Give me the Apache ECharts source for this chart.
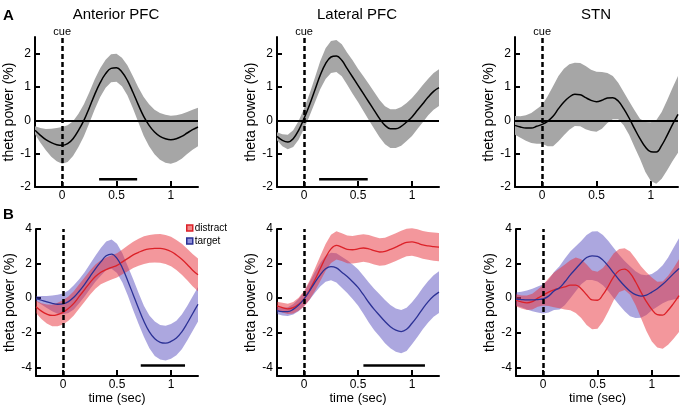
<!DOCTYPE html>
<html>
<head>
<meta charset="utf-8">
<script src="https://cdn.jsdelivr.net/npm/echarts@6/dist/echarts.min.js"></script>
<style>
  html, body { margin: 0; padding: 0; background: #fff; }
  #chart { width: 683px; height: 411px; }
</style>
</head>
<body>
<div id="chart"></div>
<script>
// time axis (sec), shared by every trace
const time = [-0.25, -0.2, -0.15, -0.1, -0.05, 0, 0.05, 0.1, 0.15, 0.2, 0.25, 0.3, 0.35, 0.4, 0.45, 0.5,
  0.55, 0.6, 0.65, 0.7, 0.75, 0.8, 0.85, 0.9, 0.95, 1.0, 1.05, 1.1, 1.15, 1.2, 1.25]

// row A: all trials (mean and half-width of the shaded band)
const antMean = [-0.30, -0.45, -0.58, -0.67, -0.73, -0.75, -0.70, -0.55, -0.30, 0.0, 0.38, 0.78, 1.13, 1.40, 1.56, 1.58,
  1.45, 1.20, 0.85, 0.47, 0.12, -0.15, -0.35, -0.48, -0.55, -0.58, -0.55, -0.48, -0.38, -0.28, -0.20]
const antErr = [0.12, 0.22, 0.32, 0.42, 0.5, 0.55, 0.55, 0.52, 0.5, 0.48, 0.46, 0.45, 0.43, 0.42, 0.42, 0.42,
  0.43, 0.45, 0.48, 0.52, 0.58, 0.63, 0.67, 0.7, 0.72, 0.72, 0.7, 0.67, 0.63, 0.6, 0.58]
const latMean = [-0.48, -0.6, -0.65, -0.55, -0.3, 0.05, 0.45, 0.9, 1.35, 1.7, 1.9, 1.93, 1.8, 1.55, 1.3, 1.05,
  0.8, 0.55, 0.3, 0.05, -0.15, -0.25, -0.25, -0.18, -0.05, 0.1, 0.3, 0.5, 0.7, 0.87, 0.98]
const latErr = [0.12, 0.18, 0.22, 0.25, 0.28, 0.3, 0.33, 0.37, 0.42, 0.46, 0.48, 0.48, 0.48, 0.48, 0.5, 0.5,
  0.52, 0.54, 0.55, 0.56, 0.57, 0.58, 0.58, 0.58, 0.57, 0.57, 0.56, 0.56, 0.55, 0.55, 0.55]
const stnMean = [-0.15, -0.2, -0.23, -0.23, -0.18, -0.12, -0.03, 0.12, 0.35, 0.55, 0.7, 0.78, 0.77, 0.68, 0.6, 0.56,
  0.6, 0.67, 0.68, 0.58, 0.35, 0.07, -0.25, -0.55, -0.8, -0.94, -0.95, -0.75, -0.45, -0.12, 0.18]
const stnErr = [0.28, 0.32, 0.38, 0.45, 0.52, 0.58, 0.75, 0.9, 0.98, 1.0, 0.98, 0.95, 0.95, 0.95, 0.92, 0.9,
  0.85, 0.75, 0.65, 0.55, 0.5, 0.5, 0.55, 0.6, 0.75, 0.88, 0.95, 1.0, 1.05, 1.1, 1.15]

// row B: distract vs target
const antDistract = [-0.5, -0.75, -0.92, -1.0, -0.95, -0.82, -0.6, -0.3, 0.1, 0.5, 0.9, 1.25, 1.5, 1.65, 1.78, 1.9,
  2.1, 2.3, 2.5, 2.65, 2.78, 2.85, 2.88, 2.88, 2.82, 2.7, 2.5, 2.25, 1.95, 1.62, 1.35]
const antDistractErr = [0.35, 0.45, 0.55, 0.62, 0.68, 0.7, 0.7, 0.7, 0.7, 0.7, 0.7, 0.7, 0.7, 0.7, 0.7, 0.7,
  0.72, 0.74, 0.76, 0.78, 0.8, 0.8, 0.82, 0.83, 0.84, 0.85, 0.87, 0.89, 0.91, 0.93, 0.95]
const antTarget = [-0.02, -0.12, -0.22, -0.3, -0.35, -0.33, -0.2, 0.05, 0.4, 0.8, 1.25, 1.7, 2.1, 2.45, 2.55, 2.3,
  1.75, 1.0, 0.2, -0.6, -1.35, -1.95, -2.35, -2.55, -2.6, -2.5, -2.3, -1.95, -1.45, -0.9, -0.35]
const antTargetErr = [0.15, 0.25, 0.35, 0.45, 0.55, 0.6, 0.65, 0.7, 0.7, 0.7, 0.72, 0.75, 0.8, 0.82, 0.85, 0.85,
  0.85, 0.85, 0.9, 0.9, 0.9, 0.95, 1.0, 1.0, 1.0, 1.0, 1.0, 1.0, 1.0, 1.0, 1.0]
const latDistract = [-0.45, -0.55, -0.62, -0.55, -0.35, -0.05, 0.45, 1.05, 1.7, 2.35, 2.85, 3.05, 2.95, 2.82, 2.8, 2.85,
  2.9, 2.85, 2.75, 2.67, 2.7, 2.82, 2.95, 3.1, 3.22, 3.25, 3.18, 3.08, 3.02, 2.98, 2.95]
const latDistractErr = [0.25, 0.28, 0.3, 0.33, 0.38, 0.45, 0.55, 0.65, 0.72, 0.78, 0.82, 0.82, 0.8, 0.8, 0.8, 0.8,
  0.8, 0.8, 0.8, 0.8, 0.8, 0.8, 0.8, 0.8, 0.8, 0.8, 0.8, 0.8, 0.8, 0.82, 0.82]
const latTarget = [-0.72, -0.78, -0.78, -0.65, -0.4, -0.05, 0.4, 0.9, 1.35, 1.7, 1.83, 1.75, 1.5, 1.25, 0.95, 0.62,
  0.2, -0.25, -0.65, -1.0, -1.35, -1.65, -1.85, -1.93, -1.8, -1.45, -1.05, -0.6, -0.2, 0.12, 0.35]
const latTargetErr = [0.2, 0.22, 0.25, 0.3, 0.35, 0.4, 0.5, 0.6, 0.68, 0.75, 0.8, 0.85, 0.9, 0.95, 1.0, 1.05,
  1.1, 1.15, 1.2, 1.22, 1.25, 1.25, 1.25, 1.25, 1.25, 1.22, 1.2, 1.2, 1.2, 1.2, 1.2]
const stnDistract = [-0.12, -0.22, -0.27, -0.2, 0.0, 0.18, 0.35, 0.48, 0.57, 0.65, 0.75, 0.75, 0.55, 0.2, -0.1, -0.12,
  0.2, 0.7, 1.25, 1.6, 1.68, 1.45, 0.95, 0.35, -0.2, -0.65, -0.95, -0.98, -0.7, -0.3, 0.15]
const stnDistractErr = [0.35, 0.38, 0.42, 0.45, 0.5, 0.6, 0.8, 1.0, 1.15, 1.3, 1.45, 1.6, 1.7, 1.75, 1.7, 1.65,
  1.55, 1.45, 1.35, 1.25, 1.2, 1.25, 1.35, 1.5, 1.7, 1.85, 1.9, 1.95, 2.0, 2.05, 2.1]
const stnTarget = [-0.05, -0.08, -0.1, -0.1, -0.08, -0.04, 0.12, 0.42, 0.6, 0.95, 1.35, 1.7, 2.05, 2.35, 2.45, 2.42,
  2.2, 1.85, 1.45, 1.05, 0.7, 0.4, 0.2, 0.12, 0.18, 0.35, 0.55, 0.8, 1.1, 1.42, 1.72]
const stnTargetErr = [0.38, 0.45, 0.55, 0.65, 0.75, 0.85, 0.95, 1.1, 1.25, 1.35, 1.35, 1.3, 1.25, 1.3, 1.4, 1.45,
  1.45, 1.45, 1.45, 1.45, 1.45, 1.45, 1.35, 1.25, 1.15, 1.05, 1.05, 1.1, 1.25, 1.5, 1.75]

// significance bars: [start, end] in sec, and the level they sit at
const sigAnt = [0.34, 0.69]
const sigLat = [0.14, 0.59]
const sigAntB = [0.72, 1.13]
const sigLatB = [0.55, 1.12]
const sigLevelA = -1.77
const sigLevelB = -3.9

const xTicks = [0, 0.5, 1]
const yTicksA = [-2, -1, 0, 1, 2]
const yTicksB = [-4, -2, 0, 2, 4]

const titles = ['Anterior PFC', 'Lateral PFC', 'STN']

const FONT = 'Liberation Sans, Arial, sans-serif'
const GRAY = '#a6a6a6'
const RED = '#dc2128'
const BLUE = '#2b3195'
const RED_BAND = 'rgba(232, 48, 58, 0.5)'
const BLUE_BAND = 'rgba(70, 60, 185, 0.45)'

const chart = echarts.init(document.getElementById('chart'), null, { renderer: 'canvas' })

const grids = [
  { left: 35, top: 37, width: 163, height: 150 },
  { left: 277, top: 37, width: 162, height: 150 },
  { left: 515, top: 37, width: 163, height: 150 },
  { left: 36, top: 229, width: 162, height: 147 },
  { left: 277, top: 229, width: 162, height: 147 },
  { left: 516, top: 229, width: 163, height: 147 },
].map((g) => ({ ...g, outerBoundsMode: 'none' }))

const xAxes = grids.map((g, i) => ({
  type: 'value',
  gridIndex: i,
  min: -0.25,
  max: 1.25,
  name: i >= 3 ? 'time (sec)' : '',
  nameLocation: 'middle',
  nameGap: 15,
  nameTextStyle: { color: '#000', fontSize: 13, fontFamily: FONT },
  axisLine: { onZero: false, lineStyle: { color: '#000', width: 2 } },
  axisTick: { inside: true, length: 6, customValues: xTicks, lineStyle: { color: '#000', width: 2 } },
  axisLabel: { customValues: xTicks, color: '#000', fontSize: 12, margin: 3, fontFamily: FONT },
  splitLine: { show: false },
}))

const yAxes = grids.map((g, i) => ({
  type: 'value',
  gridIndex: i,
  min: i < 3 ? -2 : -4.5,
  max: i < 3 ? 2.5 : 4,
  name: 'theta power (%)',
  nameLocation: 'middle',
  nameGap: 18,
  nameTextStyle: { color: '#000', fontSize: 14, fontFamily: FONT },
  axisLine: { onZero: false, lineStyle: { color: '#000', width: 2 } },
  axisTick: { inside: true, length: 5, customValues: i < 3 ? yTicksA : yTicksB, lineStyle: { color: '#000', width: 2 } },
  axisLabel: { customValues: i < 3 ? yTicksA : yTicksB, color: '#000', fontSize: 12, margin: 4, fontFamily: FONT },
  splitLine: { show: false },
}))

function pairs(vals) {
  return time.map((t, i) => [t, vals[i]])
}

// shaded band (mean ± err) drawn as one polygon through the axis scales
function band(gi, mean, err, color) {
  const lo = mean.map((m, i) => m - err[i])
  const hi = mean.map((m, i) => m + err[i])
  return {
    type: 'custom', xAxisIndex: gi, yAxisIndex: gi, silent: true, z: 2,
    data: time.map((t, i) => [t, lo[i], hi[i]]),
    encode: { x: 0, y: [1, 2] },
    renderItem(params, api) {
      if (params.dataIndex !== 0) return null
      const top = time.map((t, i) => api.coord([t, hi[i]]))
      const bottom = time.map((t, i) => api.coord([t, lo[i]])).reverse()
      return { type: 'polygon', shape: { points: top.concat(bottom) }, style: { fill: color } }
    },
  }
}

function meanLine(gi, name, vals, color, width) {
  return {
    type: 'line', name, xAxisIndex: gi, yAxisIndex: gi, smooth: 0.4, symbol: 'none',
    lineStyle: { color, width }, itemStyle: { color }, data: pairs(vals), z: 3,
  }
}

function markers(gi, topRow) {
  const data = [{
    xAxis: 0,
    lineStyle: { type: [5, 3], width: 2.5, color: '#000' },
    label: { show: topRow, formatter: 'cue', position: 'end', distance: 0, color: '#000', fontSize: 11, fontFamily: FONT },
  }]
  if (topRow) {
    data.push({ yAxis: 0, lineStyle: { type: 'solid', width: 2, color: '#000' }, label: { show: false } })
  }
  return {
    type: 'line', xAxisIndex: gi, yAxisIndex: gi, data: [], z: 4,
    markLine: { silent: true, symbol: ['none', 'none'], animation: false, data },
  }
}

function sigBar(gi, span, level) {
  return {
    type: 'line', xAxisIndex: gi, yAxisIndex: gi, symbol: 'none', silent: true, z: 4,
    lineStyle: { color: '#000', width: 2.5 },
    data: span.map((t) => [t, level]),
  }
}

const series = [
  band(0, antMean, antErr, GRAY),
  meanLine(0, 'all', antMean, '#000', 1.5),
  markers(0, true),
  sigBar(0, sigAnt, sigLevelA),

  band(1, latMean, latErr, GRAY),
  meanLine(1, 'all', latMean, '#000', 1.5),
  markers(1, true),
  sigBar(1, sigLat, sigLevelA),

  band(2, stnMean, stnErr, GRAY),
  meanLine(2, 'all', stnMean, '#000', 1.5),
  markers(2, true),

  band(3, antTarget, antTargetErr, BLUE_BAND),
  band(3, antDistract, antDistractErr, RED_BAND),
  meanLine(3, 'distract', antDistract, RED, 1.3),
  meanLine(3, 'target', antTarget, BLUE, 1.3),
  markers(3, false),
  sigBar(3, sigAntB, sigLevelB),

  band(4, latTarget, latTargetErr, BLUE_BAND),
  band(4, latDistract, latDistractErr, RED_BAND),
  meanLine(4, 'distract', latDistract, RED, 1.3),
  meanLine(4, 'target', latTarget, BLUE, 1.3),
  markers(4, false),
  sigBar(4, sigLatB, sigLevelB),

  band(5, stnTarget, stnTargetErr, BLUE_BAND),
  band(5, stnDistract, stnDistractErr, RED_BAND),
  meanLine(5, 'distract', stnDistract, RED, 1.3),
  meanLine(5, 'target', stnTarget, BLUE, 1.3),
  markers(5, false),
]

const titleCenters = [116, 357, 596]
const graphic = [
  { type: 'text', x: 3, y: 8, style: { text: 'A', font: 'bold 15px ' + FONT, fill: '#000' } },
  { type: 'text', x: 3, y: 207, style: { text: 'B', font: 'bold 15px ' + FONT, fill: '#000' } },
  ...titles.map((t, i) => ({
    type: 'text', x: titleCenters[i], y: 7,
    style: { text: t, font: '15px ' + FONT, fill: '#000', textAlign: 'center' },
  })),
]

chart.setOption({
  animation: false,
  backgroundColor: '#fff',
  grid: grids,
  xAxis: xAxes,
  yAxis: yAxes,
  legend: {
    data: [
      { name: 'distract', icon: 'rect', itemStyle: { color: '#f08a8a', borderColor: RED, borderWidth: 1.5 } },
      { name: 'target', icon: 'rect', itemStyle: { color: '#8f8fd8', borderColor: BLUE, borderWidth: 1.5 } },
    ],
    orient: 'vertical',
    left: 186,
    top: 223,
    padding: 0,
    itemWidth: 6,
    itemHeight: 6,
    itemGap: 3,
    selectedMode: false,
    textStyle: { fontSize: 10, color: '#000', fontFamily: FONT, padding: [0, 0, 0, -3] },
  },
  graphic,
  series,
})
</script>
</body>
</html>
